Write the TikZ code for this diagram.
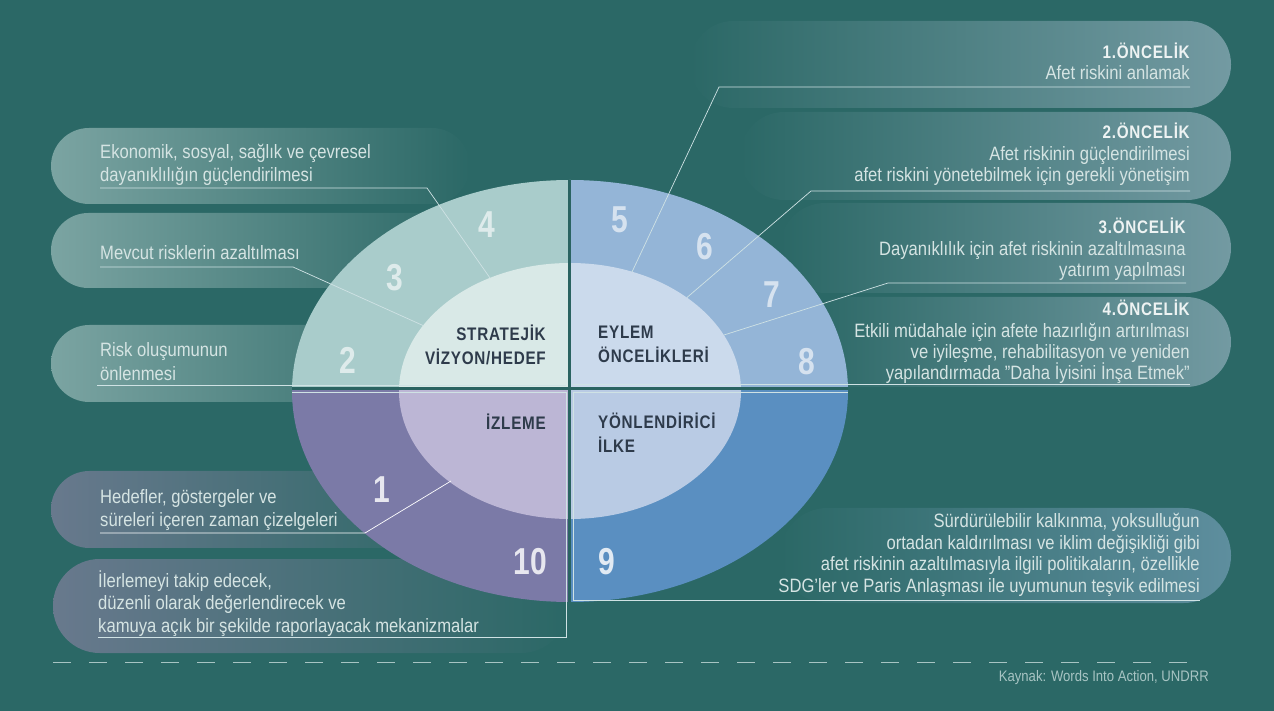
\documentclass[tikz,border=0pt]{standalone}
\usepackage{fontspec}
\setmainfont{Liberation Sans}[FakeStretch=0.86]
\newfontfamily\hdfont{Liberation Sans Bold}[FakeStretch=0.84,LetterSpace=4]
\newfontfamily\numfont{Liberation Sans Bold}[FakeStretch=0.8]
\newcommand\hdtxt[1]{{\hdfont\fontsize{15.5}{18}\selectfont\color{headc}#1}}
\definecolor{bg}{HTML}{2B6866}
\definecolor{boxL}{HTML}{7BA4A2}
\definecolor{boxP}{HTML}{68798D}
\definecolor{boxR}{HTML}{739AA2}
\definecolor{boxB}{HTML}{5E8E9E}
\definecolor{ringTL}{HTML}{A9CCCB}
\definecolor{innTL}{HTML}{D9E9E7}
\definecolor{ringTR}{HTML}{94B5D7}
\definecolor{innTR}{HTML}{CBDAEC}
\definecolor{ringBL}{HTML}{7B7AA7}
\definecolor{innBL}{HTML}{BCB6D5}
\definecolor{ringBR}{HTML}{5A8FC1}
\definecolor{innBR}{HTML}{B9CBE4}
\definecolor{divc}{HTML}{2A6361}
\definecolor{quadc}{HTML}{2E3B4B}
\definecolor{leadc}{HTML}{CFE2E4}
\definecolor{txtc}{HTML}{D5E4E3}
\definecolor{headc}{HTML}{EEF3F3}
\definecolor{dashc}{HTML}{A7C4C3}
\begin{document}
\begin{tikzpicture}[x=0.03cm,y=-0.03cm,
  leader/.style={draw=leadc,line width=0.6pt},
  txt/.style={text=txtc,inner sep=0pt},
  ltxt/.style={txt,align=left,anchor=west,font=\fontsize{16.5}{20}\selectfont},
  rtxt/.style={txt,align=right,anchor=east,font=\fontsize{16.5}{18.3}\selectfont},
  quad/.style={font=\hdfont\fontsize{15.5}{20.5}\selectfont,text=quadc,inner sep=0pt},
  num/.style={font=\numfont\fontsize{32}{32}\selectfont,text=white,text opacity=0.62,inner sep=0pt},
  lbox/.style={left color=#1,right color=bg},
  rbox/.style={left color=bg,right color=#1}]
\useasboundingbox (0,0) rectangle (1274,711);
\fill[bg] (0,0) rectangle (1274,711);

% boxes
\shade[lbox=boxL,rounded corners=1.14cm] (51,128) rectangle (470,204);
\shade[lbox=boxL,rounded corners=1.12cm] (51,213) rectangle (470,288);
\shade[lbox=boxL,rounded corners=1.15cm] (51,325) rectangle (470,402);
\shade[lbox=boxP,rounded corners=1.15cm] (51,471) rectangle (470,548);
\shade[lbox=boxP,rounded corners=1.40cm] (53,559) rectangle (568,653);
\shade[rbox=boxR,rounded corners=1.30cm] (690,21) rectangle (1231,108);
\shade[rbox=boxR,rounded corners=1.32cm] (740,112) rectangle (1231,200);
\shade[rbox=boxR,rounded corners=1.35cm] (780,203) rectangle (1231,293);
\shade[rbox=boxR,rounded corners=1.35cm] (800,297) rectangle (1231,387);
\shade[rbox=boxB,rounded corners=1.42cm] (780,508) rectangle (1231,603);

% ellipse
\coordinate (c) at (570,391);
\foreach \qx/\qy/\rc/\ic in {-1/-1/ringTL/innTL,1/-1/ringTR/innTR,-1/1/ringBL/innBL,1/1/ringBR/innBR}{
  \begin{scope}
    \clip (c) rectangle ++(290*\qx,220*\qy);
    \fill[\rc] (c) ellipse [x radius=278,y radius=211];
    \fill[\ic] (c) ellipse [x radius=171,y radius=128];
  \end{scope}
}
\begin{scope}
  \clip (c) ellipse [x radius=278,y radius=211];
  \draw[divc,line width=0.09cm] (569.5,170) -- (569.5,610) (280,388.5) -- (860,388.5);
\end{scope}

\node[num] (n2) at (348,360) {2};
\node[num] (n3) at (395,278) {3};
\node[num] (n4) at (487,225) {4};
\node[num] (n5) at (620,220) {5};
\node[num] (n6) at (705,247) {6};
\node[num] (n7) at (772,295) {7};
\node[num] (n8) at (807,362) {8};
\node[num,text opacity=0.82] (n1) at (382,490) {1};
\node[num,text opacity=0.82] (n10) at (530,562) {10};
\node[num,text opacity=0.82] (n9) at (607,562) {9};

\node[quad,anchor=east,align=right] (qsv) at (546,345) {STRATEJİK\\VİZYON/HEDEF};
\node[quad,anchor=west,align=left] (qeo) at (598,344) {EYLEM\\ÖNCELİKLERİ};
\node[quad,anchor=east] (qiz) at (546,422) {İZLEME};
\node[quad,anchor=west,align=left] (qyi) at (598,433) {YÖNLENDİRİCİ\\İLKE};

% texts
\node[ltxt] (l1) at (100,165) {Ekonomik, sosyal, sağlık ve çevresel\\dayanıklılığın güçlendirilmesi};
\node[ltxt] (l2) at (100,253) {Mevcut risklerin azaltılması};
\node[ltxt] (l3) at (100,361.5) {Risk oluşumunun\\önlenmesi};
\node[ltxt] (l4) at (100,510) {Hedefler, göstergeler ve\\süreleri içeren zaman çizelgeleri};
\node[ltxt,font=\fontsize{16.5}{19}\selectfont] (l5) at (98,603.5) {İlerlemeyi takip edecek,\\düzenli olarak değerlendirecek ve\\kamuya açık bir şekilde raporlayacak mekanizmalar};
\node[rtxt] (r1) at (1190,61.5) {\hdtxt{1.ÖNCELİK}\\Afet riskini anlamak};
\node[rtxt] (r2) at (1190,154.5) {\hdtxt{2.ÖNCELİK}\\Afet riskinin güçlendirilmesi\\afet riskini yönetebilmek için gerekli yönetişim};
\node[rtxt] (r3) at (1186,249.5) {\hdtxt{3.ÖNCELİK}\\Dayanıklılık için afet riskinin azaltılmasına\\yatırım yapılması};
\node[rtxt] (r4) at (1190,342) {\hdtxt{4.ÖNCELİK}\\Etkili müdahale için afete hazırlığın artırılması\\ve iyileşme, rehabilitasyon ve yeniden\\yapılandırmada "Daha İyisini İnşa Etmek"};
\node[rtxt] (r5) at (1200,555) {Sürdürülebilir kalkınma, yoksulluğun\\ortadan kaldırılması ve iklim değişikliği gibi\\afet riskinin azaltılmasıyla ilgili politikaların, özellikle\\SDG'ler ve Paris Anlaşması ile uyumunun teşvik edilmesi};

% leaders
\coordinate (a1) at (100,188);  \coordinate (b1) at (427,188);  \coordinate (e1) at (490,278);
\coordinate (a2) at (100,267);  \coordinate (b2) at (293,267);  \coordinate (e2) at (423,325.5);
\coordinate (a3) at (97,385);   \coordinate (e3) at (566,385);
\coordinate (a4) at (100,533);  \coordinate (b4) at (365,533);  \coordinate (e4) at (451,481);
\coordinate (a5) at (98,637);   \coordinate (b5) at (566,637);  \coordinate (c5) at (566,392); \coordinate (e5) at (292,392);
\coordinate (ar1) at (1190,87); \coordinate (br1) at (719,87);  \coordinate (er1) at (632,272);
\coordinate (ar2) at (1190,191);\coordinate (br2) at (811,191); \coordinate (er2) at (687,297.5);
\coordinate (ar3) at (1186,283);\coordinate (br3) at (888,283); \coordinate (er3) at (724,335);
\coordinate (ar4) at (1190,384);\coordinate (er4) at (573,384);
\coordinate (ar5) at (1200,600);\coordinate (br5) at (573,600); \coordinate (cr5) at (573,392); \coordinate (er5) at (848,392);
\draw[leader] (a1) -- (b1) -- (e1);
\draw[leader] (a2) -- (b2) -- (e2);
\draw[leader] (a3) -- (e3);
\draw[leader,draw=white] (a4) -- (b4) -- (e4);
\draw[leader] (a5) -- (b5) -- (c5) -- (e5);
\draw[leader] (ar1) -- (br1) -- (er1);
\draw[leader] (ar2) -- (br2) -- (er2);
\draw[leader] (ar3) -- (br3) -- (er3);
\draw[leader] (ar4) -- (er4);
\draw[leader] (ar5) -- (br5) -- (cr5) -- (er5);

% footer
\coordinate (dl) at (53,662);
\coordinate (dr) at (1203,662);
\draw[dashc,line width=0.8pt,dash pattern=on 0.54cm off 0.54cm] (dl) -- (dr);
\node[txt,anchor=east,text=dashc,font=\fontsize{13}{15}\selectfont] (src) at (1209,678) {Kaynak: Words Into Action, UNDRR};
\end{tikzpicture}
\end{document}
